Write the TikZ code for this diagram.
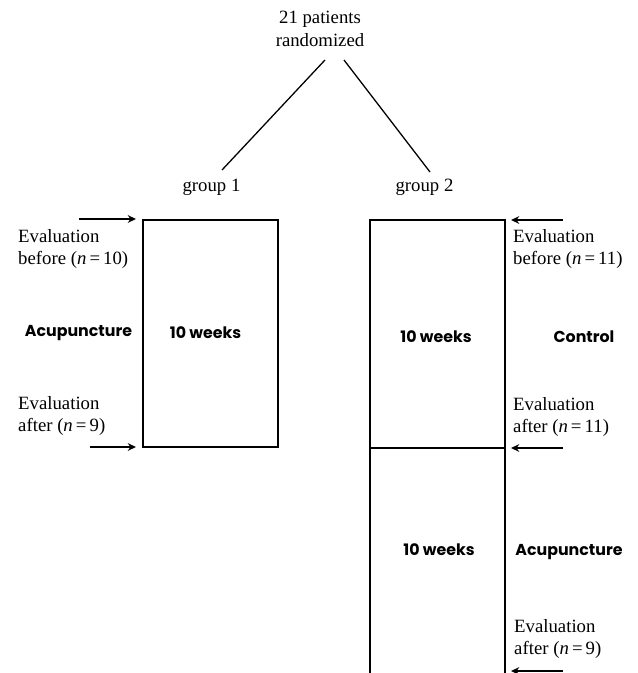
\documentclass[tikz,border=0pt]{standalone}
\usepackage{fontspec}
\setmainfont{Liberation Serif}
\newfontfamily\armfont{Poppins}
\usetikzlibrary{positioning, calc, arrows.meta}

\tikzset{
  plaintext/.style={font=\fontsize{16}{19}\selectfont, inner sep=0pt, align=left},
  armtext/.style={font=\armfont\bfseries\fontsize{13.5}{16}\selectfont, inner sep=0pt},
  evalarrow/.style={-{Stealth[length=7pt,width=6.5pt]}, line width=2pt},
  boxline/.style={line width=0.9pt}
}

\begin{document}
\begin{tikzpicture}[x=0.03cm, y=-0.03cm, >=stealth]
    \useasboundingbox (0,0) rectangle (637,673);

    % --- Randomization and the two groups ---
    \node[plaintext, align=center] (rand) at (320,29) {21 patients\\randomized};
    \node[plaintext] (grpA) at (211.5,187) {group 1};
    \node[plaintext] (grpB) at (424.5,187) {group 2};
    \coordinate (randL) at (325,60);
    \coordinate (randR) at (344,60);
    \coordinate (grpAtop) at (222,170);
    \coordinate (grpBtop) at (430,172);
    \draw[line width=1.1pt] (randL) -- (grpAtop);
    \draw[line width=1.1pt] (randR) -- (grpBtop);

    % --- Group 1: acupuncture for 10 weeks ---
    \coordinate (boxAnw) at (143,220);
    \coordinate (boxAse) at (278,447);
    \draw[boxline] (boxAnw) rectangle (boxAse);
    \node[armtext] (weeksA) at (205.5,333) {10 weeks};
    \node[armtext] (armA) at (78.5,333) {Acupuncture};

    % evaluations of group 1 (arrows point into the box)
    \node[plaintext, anchor=west] (evalAbefore) at (18,249) {Evaluation\\before (\textit{n}\,=\,10)};
    \node[plaintext, anchor=west] (evalAafter) at (18,416) {Evaluation\\after (\textit{n}\,=\,9)};
    \coordinate (arrA1s) at (79,219);
    \coordinate (arrA1e) at (136,219);
    \coordinate (arrA2s) at (90,447);
    \coordinate (arrA2e) at (136,447);
    \draw[evalarrow] (arrA1s) -- (arrA1e);
    \draw[evalarrow] (arrA2s) -- (arrA2e);

    % --- Group 2: control, then acupuncture (crossover) ---
    \coordinate (boxBnw) at (370,220);
    \coordinate (boxBne) at (505,220);
    \coordinate (boxBsw) at (370,673);
    \coordinate (boxBse) at (505,673);
    \coordinate (boxBmidW) at (370,448);
    \coordinate (boxBmidE) at (505,448);
    \draw[boxline] (boxBsw) -- (boxBnw) -- (boxBne) -- (boxBse);
    \draw[boxline] (boxBmidW) -- (boxBmidE);
    \node[armtext] (weeksB1) at (436,337) {10 weeks};
    \node[armtext] (weeksB2) at (439,550) {10 weeks};
    \node[armtext] (armB1) at (584,337) {Control};
    \node[armtext] (armB2) at (569,552) {Acupuncture};

    % evaluations of group 2 (arrows point back to the box)
    \node[plaintext, anchor=west] (evalBbefore) at (513,249) {Evaluation\\before (\textit{n}\,=\,11)};
    \node[plaintext, anchor=west] (evalBmid) at (513,417) {Evaluation\\after (\textit{n}\,=\,11)};
    \node[plaintext, anchor=west] (evalBafter) at (514,639) {Evaluation\\after (\textit{n}\,=\,9)};
    \coordinate (arrB1s) at (563,220);
    \coordinate (arrB1e) at (511,220);
    \coordinate (arrB2s) at (563,448);
    \coordinate (arrB2e) at (511,448);
    \coordinate (arrB3s) at (563,671);
    \coordinate (arrB3e) at (511,671);
    \draw[evalarrow] (arrB1s) -- (arrB1e);
    \draw[evalarrow] (arrB2s) -- (arrB2e);
    \draw[evalarrow] (arrB3s) -- (arrB3e);

\end{tikzpicture}
\end{document}
